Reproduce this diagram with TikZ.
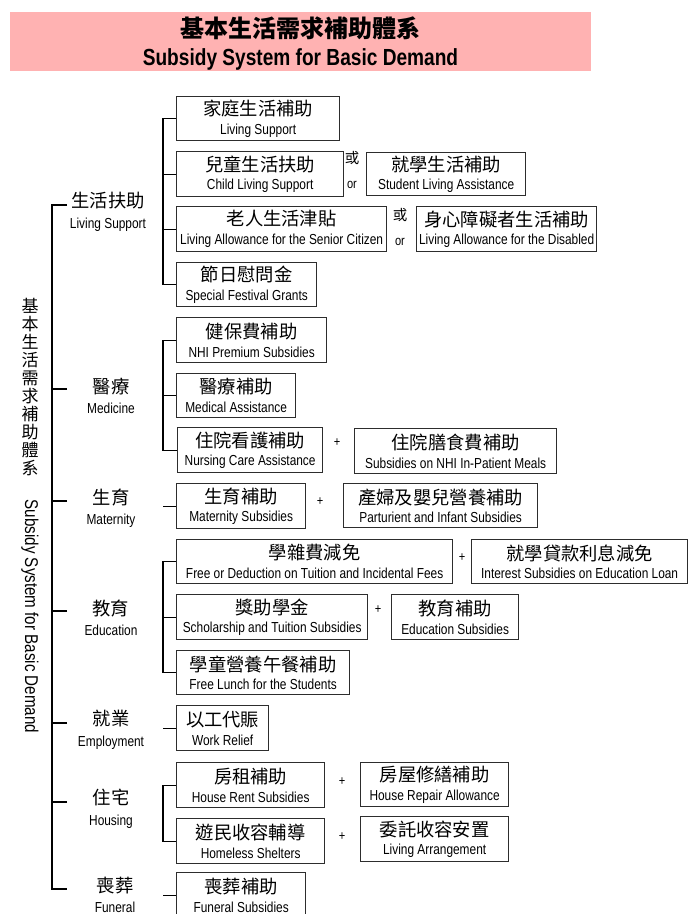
\documentclass[tikz,border=0pt]{standalone}
\usepackage{fontspec}
\newfontfamily\zh{Noto Sans CJK TC}
\newfontfamily\en[FakeStretch=0.82]{Liberation Sans}
\usetikzlibrary{positioning}
\definecolor{titlepink}{RGB}{255,178,178}
\definecolor{linegray}{RGB}{45,45,45}
\newcommand\zhfont{\zh\fontsize{18.3}{18.7}\selectfont}
\newcommand\boxfont{\en\fontsize{14.5}{18.7}\selectfont}

\begin{document}
\begin{tikzpicture}[x=1pt, y=-1pt,
	box/.style={draw=linegray, line width=1.3pt, inner sep=0pt, anchor=north west, align=center, font=\boxfont},
	conn/.style={draw=black, line width=1.3pt},
	cat/.style={align=center, inner sep=0pt, font=\en\fontsize{14.5}{20.5}\selectfont},
	small/.style={align=center, inner sep=0pt, font=\en\fontsize{13.5}{25}\selectfont}]
	\useasboundingbox (0,0) rectangle (688,914);
	% title
	\node[fill=titlepink, minimum width=581pt, minimum height=59pt, inner sep=0pt, align=center,
		font=\fontsize{23}{28}\selectfont] (title) at (300.5,41.5) {};
	\node[align=center, inner sep=0pt, font=\fontsize{23}{28}\selectfont] (titletext) at (300.5,43.5)
		{{\zh\bfseries\fontsize{24}{28}\selectfont 基本生活需求補助體系}\\{\en\bfseries\fontsize{23.3}{28}\selectfont Subsidy System for Basic Demand}};
	% side title
	\node[anchor=north, align=center, inner sep=0pt, font=\zh\fontsize{17}{18}\selectfont] (vzh) at (30,298)
		{基\\本\\生\\活\\需\\求\\補\\助\\體\\系};
	\node[rotate=-90, inner sep=0pt, font=\en\fontsize{18.5}{20}\selectfont] (ven) at (30,616.5) {Subsidy System for Basic Demand};
	% categories
	\coordinate (t1) at (67,205);
	\coordinate (t2) at (67,389);
	\coordinate (t3) at (67,501);
	\coordinate (t4) at (67,611);
	\coordinate (t5) at (67,723);
	\coordinate (t6) at (67,802);
	\coordinate (t7) at (67,889);
	\node[cat] (c1) at (108,212) {{\zhfont 生活扶助}\\Living Support};
	\node[cat] (c2) at (111,396) {{\zhfont 醫療}\\Medicine};
	\node[cat] (c3) at (111,508) {{\zhfont 生育}\\Maternity};
	\node[cat] (c4) at (111,618) {{\zhfont 教育}\\Education};
	\node[cat] (c5) at (111,730) {{\zhfont 就業}\\Employment};
	\node[cat] (c6) at (111,809) {{\zhfont 住宅}\\Housing};
	\node[cat] (c7) at (115,895) {{\zhfont 喪葬}\\Funeral};
	\draw[conn] (t1) -- ++(-15,0) |- (t7);
	\foreach \t in {t2,t3,t4,t5,t6}
		\draw[conn] (\t) -- ++(-15,0);
	% living support
	\node[box, minimum width=163pt, minimum height=44pt] (ls1) at (176,96) {{\zhfont 家庭生活補助}\\Living Support};
	\node[box, minimum width=167pt, minimum height=45pt] (ls2) at (176,151) {{\zhfont 兒童生活扶助}\\Child Living Support};
	\node[box, minimum width=159pt, minimum height=43pt] (ls2b) at (366,152) {{\zhfont 就學生活補助}\\Student Living Assistance};
	\node[box, minimum width=210pt, minimum height=45pt] (ls3) at (176,206) {{\zhfont 老人生活津貼}\\Living Allowance for the Senior Citizen};
	\node[box, minimum width=180pt, minimum height=45pt] (ls3b) at (416,206) {{\zhfont 身心障礙者生活補助}\\Living Allowance for the Disabled};
	\node[box, minimum width=140pt, minimum height=44pt] (ls4) at (176,262) {{\zhfont 節日慰問金}\\Special Festival Grants};
	\node[small] (or1) at (352,170) {{\zh\fontsize{14.5}{25}\selectfont 或}\\or};
	\node[small] (or2) at (400,227) {{\zh\fontsize{14.5}{25}\selectfont 或}\\or};
	\draw[conn] (ls1.west) -- ++(-13,0) |- (ls4.west);
	\draw[conn] (ls2.west) -- ++(-13,0);
	\draw[conn] (ls3.west) -- ++(-13,0);
	% medicine
	\node[box, minimum width=150pt, minimum height=45pt] (md1) at (176,317) {{\zhfont 健保費補助}\\NHI Premium Subsidies};
	\node[box, minimum width=119pt, minimum height=44pt] (md2) at (176,373) {{\zhfont 醫療補助}\\Medical Assistance};
	\node[box, minimum width=145pt, minimum height=45pt] (md3) at (177,427) {{\zhfont 住院看護補助}\\Nursing Care Assistance};
	\node[box, minimum width=202pt, minimum height=45pt] (md3b) at (354,428) {{\zhfont 住院膳食費補助}\\Subsidies on NHI In-Patient Meals};
	\node[small] (p1) at (337,443) {+};
	\draw[conn] (md1.west) -- ++(-13,0) |- (md3.west);
	\draw[conn] (md2.west) -- ++(-13,0);
	% maternity
	\node[box, minimum width=129pt, minimum height=45pt] (mt1) at (176,483) {{\zhfont 生育補助}\\Maternity Subsidies};
	\node[box, minimum width=194pt, minimum height=44pt] (mt1b) at (343,483) {{\zhfont 產婦及嬰兒營養補助}\\Parturient and Infant Subsidies};
	\node[small] (p2) at (320,502) {+};
	\draw[conn] (mt1.west) -- ++(-13,0);
	% education
	\node[box, minimum width=276pt, minimum height=44pt] (ed1) at (176,539) {{\zhfont 學雜費減免}\\Free or Deduction on Tuition and Incidental Fees};
	\node[box, minimum width=216pt, minimum height=44pt] (ed1b) at (471,539) {{\zhfont 就學貸款利息減免}\\Interest Subsidies on Education Loan};
	\node[box, minimum width=191pt, minimum height=45pt] (ed2) at (176,594) {{\zhfont 獎助學金}\\Scholarship and Tuition Subsidies};
	\node[box, minimum width=127pt, minimum height=45pt] (ed2b) at (391,594) {{\zhfont 教育補助}\\Education Subsidies};
	\node[box, minimum width=173pt, minimum height=44pt] (ed3) at (176,650) {{\zhfont 學童營養午餐補助}\\Free Lunch for the Students};
	\node[small] (p3) at (462,558) {+};
	\node[small] (p4) at (378,610) {+};
	\draw[conn] (ed1.west) -- ++(-13,0) |- (ed3.west);
	\draw[conn] (ed2.west) -- ++(-13,0);
	% employment
	\node[box, minimum width=92pt, minimum height=45pt] (em1) at (176,705) {{\zhfont 以工代賑}\\Work Relief};
	\draw[conn] (em1.west) -- ++(-13,0);
	% housing
	\node[box, minimum width=148pt, minimum height=45pt] (hs1) at (176,762) {{\zhfont 房租補助}\\House Rent Subsidies};
	\node[box, minimum width=148pt, minimum height=44pt] (hs1b) at (360,762) {{\zhfont 房屋修繕補助}\\House Repair Allowance};
	\node[box, minimum width=148pt, minimum height=45pt] (hs2) at (176,818) {{\zhfont 遊民收容輔導}\\Homeless Shelters};
	\node[box, minimum width=148pt, minimum height=45pt] (hs2b) at (360,816) {{\zhfont 委託收容安置}\\Living Arrangement};
	\node[small] (p5) at (342,782) {+};
	\node[small] (p6) at (342,837) {+};
	\draw[conn] (hs1.west) -- ++(-13,0) |- (hs2.west);
	% funeral
	\node[box, minimum width=129pt, minimum height=45pt] (fn1) at (176,872) {{\zhfont 喪葬補助}\\Funeral Subsidies};
	\draw[conn] (fn1.west) -- ++(-13,0);
\end{tikzpicture}
\end{document}
